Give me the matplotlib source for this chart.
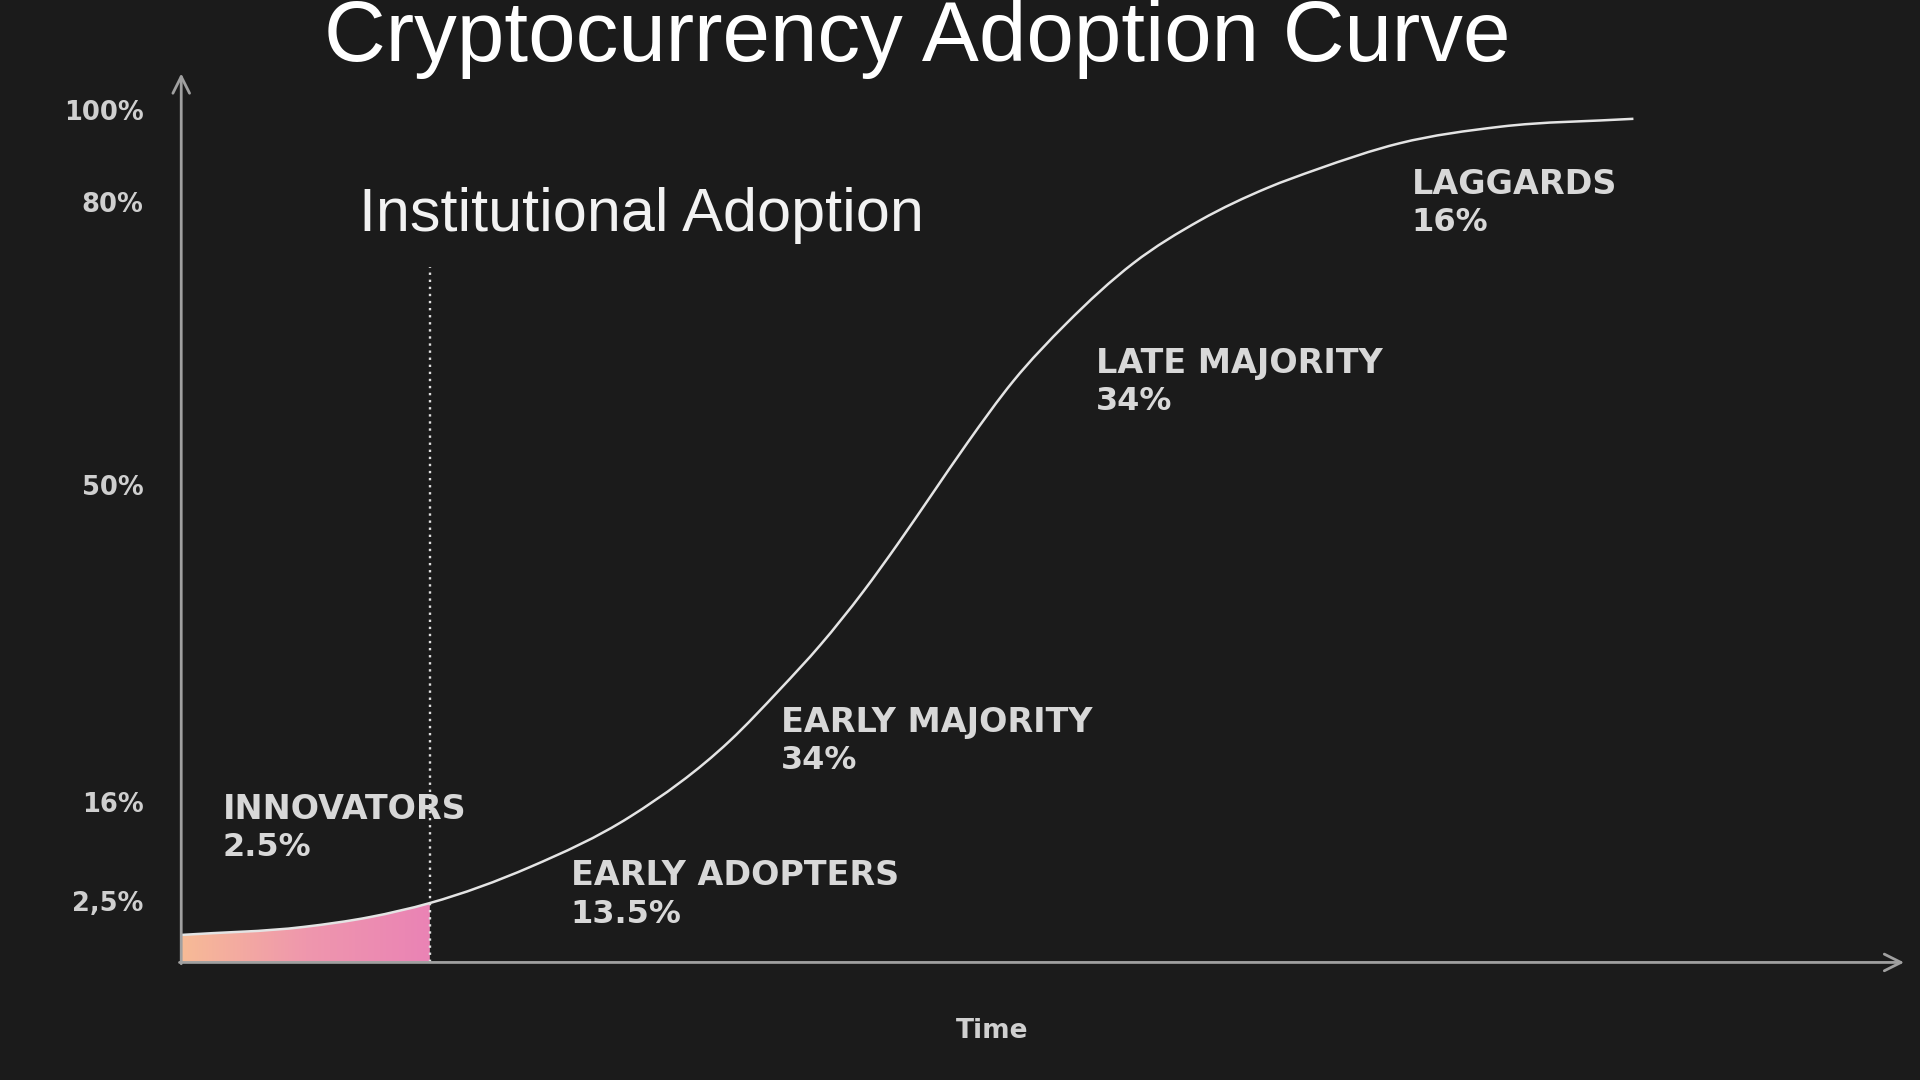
import numpy as np
import matplotlib
matplotlib.use("Agg")
import matplotlib.pyplot as plt
from matplotlib.colors import LinearSegmentedColormap
from matplotlib.path import Path
from matplotlib.patches import PathPatch

# ---------------- data ----------------
title = "Cryptocurrency Adoption Curve"
subtitle = "Institutional Adoption"
x_label = "Time"

# adoption curve (time 0..100, plotted level 0..100 where 100 == "100%" tick)
curve_t = [0.0, 7.11, 10.94, 14.43, 20.26, 26.05, 31.84, 34.75, 37.10, 39.59,
           41.58, 43.50, 45.63, 48.29, 51.39, 55.26, 59.13, 63.04, 65.88,
           70.72, 76.55, 84.29]
curve_y = [3.23, 4.17, 5.32, 6.97, 11.21, 17.10, 26.0, 32.04, 37.26, 43.53,
           49.08, 54.71, 60.96, 68.2, 75.0, 82.04, 87.07, 90.88, 93.03,
           96.12, 98.06, 98.99]

innovators_end_t = 14.43      # dotted "institutional adoption" marker
marker_top_y = 81.6

ytick_pos = [100.0, 89.2, 56.0, 18.8, 7.2]
ytick_labels = ["100%", "80%", "50%", "16%", "2,5%"]

segment_names = ["INNOVATORS", "EARLY ADOPTERS", "EARLY MAJORITY",
                 "LATE MAJORITY", "LAGGARDS"]
segment_shares = ["2.5%", "13.5%", "34%", "34%", "16%"]

# ---------------- style ----------------
BG = "#1b1b1b"
AXIS_C = "#a0a0a0"
CURVE_C = "#e4e4e4"
TEXT_C = "#d8d8d8"

W, H = 1568.0, 882.0          # reference layout units
X0, X1 = 148.0, 1555.0        # axis x extent
Y0, YTOP = 786.0, 60.0        # axis y extent
Y100 = 90.0                   # pixel row of 100%
XMAX = 100.0
YMAX = (Y0 - YTOP) / (Y0 - Y100) * 100.0

fig = plt.figure(figsize=(19.2, 10.8), dpi=100, facecolor=BG)
ax = fig.add_axes([X0 / W, 1 - Y0 / H, (X1 - X0) / W, (Y0 - YTOP) / H])
ax.set_facecolor(BG)
ax.set_xlim(0, XMAX)
ax.set_ylim(0, YMAX)
for s in ax.spines.values():
    s.set_visible(False)


def P(xd, yd):
    """layout pixel -> data coords (for text placement)"""
    return ((xd - X0) / (X1 - X0) * XMAX, (Y0 - yd) / (Y0 - Y100) * 100.0)


def smooth_segments(x, y):
    """Cubic Hermite (non-uniform 3-point tangents) as Bezier path pieces."""
    x = np.asarray(x, float)
    y = np.asarray(y, float)
    n = len(x)
    h = np.diff(x)
    d = np.diff(y) / h
    m = np.empty(n)
    m[0], m[-1] = d[0], d[-1]
    for i in range(1, n - 1):
        m[i] = (d[i - 1] * h[i] + d[i] * h[i - 1]) / (h[i - 1] + h[i])
    verts = [(x[0], y[0])]
    codes = [Path.MOVETO]
    for i in range(n - 1):
        verts += [(x[i] + h[i] / 3, y[i] + m[i] * h[i] / 3),
                  (x[i + 1] - h[i] / 3, y[i + 1] - m[i + 1] * h[i] / 3),
                  (x[i + 1], y[i + 1])]
        codes += [Path.CURVE4] * 3
    return verts, codes


verts, codes = smooth_segments(curve_t, curve_y)

# gradient fill under innovators part of curve
k = int(np.searchsorted(np.array(curve_t), innovators_end_t + 1e-9))  # points incl. boundary
sub_v = verts[:1 + 3 * (k - 1)]
sub_c = codes[:1 + 3 * (k - 1)]
fill_v = [(0, 0)] + [tuple(v) for v in sub_v] + [(innovators_end_t, 0), (0, 0)]
fill_c = [Path.MOVETO, Path.LINETO] + sub_c[1:] + [Path.LINETO, Path.CLOSEPOLY]
clip_path = Path(fill_v, fill_c)
cmap = LinearSegmentedColormap.from_list("innov", ["#f7bb96", "#ef97ad", "#ea83b5"])
grad = np.linspace(0, 1, 256).reshape(1, -1)
im = ax.imshow(grad, cmap=cmap, aspect="auto",
               extent=[0, innovators_end_t, 0, max(curve_y[:k]) + 1], zorder=1)
im.set_clip_path(clip_path, transform=ax.transData)

# curve
ax.add_patch(PathPatch(Path(verts, codes), facecolor="none",
                       edgecolor=CURVE_C, lw=1.8, zorder=3))

# dotted marker
ax.plot([innovators_end_t, innovators_end_t], [0, marker_top_y],
        color="#e0e0e0", lw=1.7, ls=(0, (1.0, 2.0)), zorder=4)

# axes with arrows
ax.annotate("", xy=(0, YMAX), xytext=(0, -0.15),
            arrowprops=dict(arrowstyle="->", color=AXIS_C, lw=2,
                            mutation_scale=30, shrinkA=0, shrinkB=0),
            annotation_clip=False, zorder=5)
ax.annotate("", xy=(XMAX, 0), xytext=(-0.1, 0),
            arrowprops=dict(arrowstyle="->", color=AXIS_C, lw=2,
                            mutation_scale=30, shrinkA=0, shrinkB=0),
            annotation_clip=False, zorder=5)

# ticks
ax.set_xticks([])
ax.set_yticks(ytick_pos, ytick_labels)
ax.tick_params(axis="y", length=0, pad=27, labelsize=18.5, labelcolor="#cfcfcf")
for lbl in ax.get_yticklabels():
    lbl.set_fontweight("bold")
    lbl.set_family("DejaVu Sans")

# segment labels
label_px = [(182, 668.5), (466, 723), (638, 597.5), (895, 304.5), (1153, 158.5)]
for (px, py), name, share in zip(label_px, segment_names, segment_shares):
    x, y = P(px, py)
    _, y2 = P(px, py + 30.5)
    ax.text(x, y, name, color=TEXT_C, fontsize=24, fontweight="bold",
            family="DejaVu Sans", va="baseline", ha="left", zorder=6)
    ax.text(x, y2, share, color=TEXT_C, fontsize=23, fontweight="bold",
            family="DejaVu Sans", va="baseline", ha="left", zorder=6)

# titles
fig.text(749 / W, 1 - 50 / H, title, color="white", fontsize=61.5,
         family="Liberation Sans", ha="center", va="baseline")
fig.text(293 / W, 1 - 189 / H, subtitle, color="#f2f2f2", fontsize=44,
         family="Liberation Sans", ha="left", va="baseline")
fig.text(810 / W, 1 - 842 / H, x_label, color="#d0d0d0", fontsize=19,
         fontweight="bold", family="DejaVu Sans", ha="center", va="center")

fig.savefig("out.png", dpi=100, facecolor=BG)
